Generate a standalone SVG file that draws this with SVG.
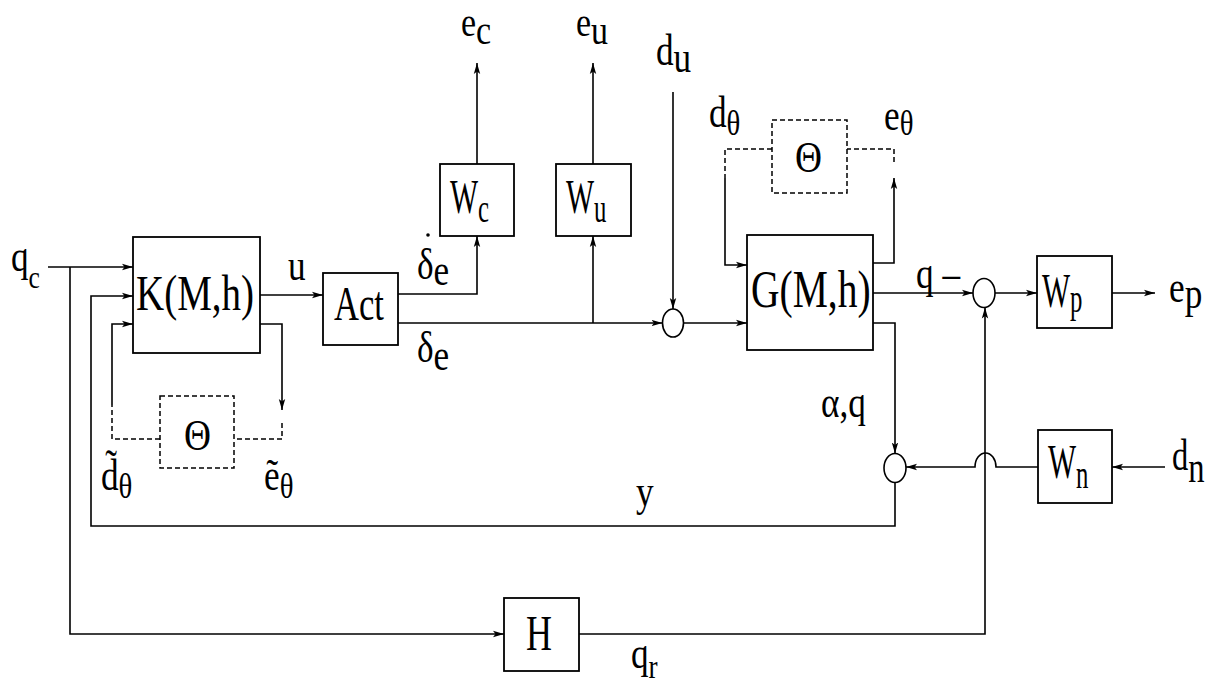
<svg xmlns="http://www.w3.org/2000/svg" width="1207" height="686" viewBox="0 0 1207 686">
<style>
.box{fill:none;stroke:#000;stroke-width:1.8}
.dbox{fill:none;stroke:#000;stroke-width:1.5;stroke-dasharray:5,3}
.ln{fill:none;stroke:#000;stroke-width:1.6}
.dl{fill:none;stroke:#000;stroke-width:1.5;stroke-dasharray:5,3}
.arr{marker-end:url(#ah)}
.sum{fill:#fff;stroke:#000;stroke-width:1.6}
.t{font-family:"Liberation Serif","Times New Roman",serif;fill:#000}
.lb{font-size:44px}
.bl{font-size:50px}
.th{font-size:36px}
</style>
<defs>
<marker id="ah" markerWidth="12" markerHeight="8" refX="11" refY="4" orient="auto" markerUnits="userSpaceOnUse">
<path d="M0,0.8 L11,4 L0,7.2 L2.5,4 Z" fill="#000"/>
</marker>
</defs>
<rect width="1207" height="686" fill="#fff"/>

<g id="connectors">
<path class="ln arr" d="M48,267 H133"/>
<path class="ln arr" d="M70,267 V634 H504"/>
<path class="ln arr" d="M895,482 V526 H91 V296 H133"/>
<path class="dl" d="M160,439 H112 V405"/>
<path class="ln arr" d="M112,405 V324 H133"/>
<path class="ln arr" d="M260,324 H282 V410"/>
<path class="dl" d="M282,423 V439 H234"/>
<path class="ln arr" d="M260,295 H323"/>
<path class="ln arr" d="M398,294 H477 V236"/>
<path class="ln arr" d="M477,164 V63"/>
<path class="ln arr" d="M398,323 H662.5"/>
<path class="ln arr" d="M593,323 V236"/>
<path class="ln arr" d="M593,164 V63"/>
<path class="ln arr" d="M673,92 V309"/>
<path class="ln arr" d="M683.5,323 H747"/>
<path class="dl" d="M772,149 H725 V178"/>
<path class="ln arr" d="M725,178 V265 H747"/>
<path class="ln arr" d="M873,263 H894 V178"/>
<path class="dl" d="M894,162 V149 H847"/>
<path class="ln arr" d="M873,293 H973"/>
<path class="ln arr" d="M995,293 H1037"/>
<path class="ln arr" d="M1112,293 H1155"/>
<path class="ln arr" d="M873,323 H895 V453.5"/>
<path class="ln arr" d="M1165,467 H1112"/>
<path class="ln arr" d="M1038,467 H996 A10.5,14 0 0 0 975,467 H906"/>
<path class="ln arr" d="M579,634 H985 V307.5"/>
</g>

<g id="sum1"><ellipse class="sum" cx="673" cy="323" rx="10.5" ry="14"/></g>
<g id="sum2"><ellipse class="sum" cx="984" cy="293" rx="11" ry="14.5"/></g>
<g id="sum3"><ellipse class="sum" cx="895" cy="468" rx="11" ry="14.5"/></g>

<g id="K"><rect class="box" x="133" y="237" width="127" height="116"/>
<text class="t bl" transform="translate(136,310) scale(0.78,1)">K(M,h)</text></g>
<g id="Act"><rect class="box" x="323" y="273" width="75" height="72"/>
<text class="t" transform="translate(334,320) scale(0.72,1)" style="font-size:48px">Act</text></g>
<g id="Wc"><rect class="box" x="440" y="164" width="74" height="72"/>
<text class="t" transform="translate(450,213) scale(0.62,1)" style="font-size:48px">W<tspan dy="9" style="font-size:40px">c</tspan></text></g>
<g id="Wu"><rect class="box" x="556" y="164" width="75" height="72"/>
<text class="t" transform="translate(566,213) scale(0.62,1)" style="font-size:48px">W<tspan dy="9" style="font-size:40px">u</tspan></text></g>
<g id="G"><rect class="box" x="747" y="235" width="126" height="115"/>
<text class="t" transform="translate(751,307) scale(0.76,1)" style="font-size:52px">G(M,h)</text></g>
<g id="ThetaTop"><rect class="dbox" x="772" y="120" width="75" height="73"/>
<text class="t" transform="translate(795,172) scale(0.85,1)" style="font-size:44px">Θ</text></g>
<g id="ThetaBottom"><rect class="dbox" x="160" y="396" width="74" height="72"/>
<text class="t" transform="translate(184,450) scale(0.85,1)" style="font-size:44px">Θ</text></g>
<g id="Wp"><rect class="box" x="1037" y="256" width="75" height="72"/>
<text class="t" transform="translate(1042,307) scale(0.62,1)" style="font-size:48px">W<tspan dy="5" style="font-size:40px">p</tspan></text></g>
<g id="Wn"><rect class="box" x="1038" y="430" width="74" height="73"/>
<text class="t" transform="translate(1048,478) scale(0.62,1)" style="font-size:48px">W<tspan dy="10" style="font-size:40px">n</tspan></text></g>
<g id="H"><rect class="box" x="504" y="598" width="75" height="73"/>
<text class="t" transform="translate(526,650) scale(0.72,1)" style="font-size:50px">H</text></g>

<g id="labels">
<text class="t lb" transform="translate(11,271) scale(0.8,1)">q<tspan dy="17" style="font-size:32px">c</tspan></text>
<text class="t lb" transform="translate(288,280) scale(0.8,1)">u</text>
<text class="t" style="font-size:40px" transform="translate(461,36) scale(0.85,1)">e<tspan dy="8">c</tspan></text>
<text class="t" style="font-size:40px" transform="translate(576,36) scale(0.85,1)">e<tspan dy="8">u</tspan></text>
<text class="t lb" transform="translate(656,65) scale(0.8,1)">d<tspan dy="7">u</tspan></text>
<text class="t lb" transform="translate(709,127) scale(0.8,1)">d<tspan class="th" dy="8">θ</tspan></text>
<text class="t lb" transform="translate(884,130) scale(0.8,1)">e<tspan class="th" dy="5">θ</tspan></text>
<circle cx="428" cy="235" r="1.8" fill="#000"/>
<text class="t lb" transform="translate(417,279) scale(0.8,1)">δ<tspan dy="6">e</tspan></text>
<text class="t lb" transform="translate(417,362) scale(0.8,1)">δ<tspan dy="8">e</tspan></text>
<text class="t lb" transform="translate(101,490) scale(0.8,1)">d̃<tspan class="th" dy="8">θ</tspan></text>
<text class="t lb" transform="translate(264,490) scale(0.8,1)">ẽ<tspan class="th" dy="8">θ</tspan></text>
<text class="t lb" transform="translate(916,288) scale(0.8,1)">q –</text>
<text class="t lb" transform="translate(1169,302) scale(0.8,1)">e<tspan dy="6">p</tspan></text>
<text class="t lb" transform="translate(821,417) scale(0.8,1)">α,q</text>
<text class="t lb" transform="translate(1172,470) scale(0.74,1)">d<tspan dy="12">n</tspan></text>
<text class="t lb" transform="translate(636,506) scale(0.8,1)">y</text>
<text class="t lb" transform="translate(631,668) scale(0.8,1)">q<tspan dy="10" style="font-size:34px">r</tspan></text>
</g>
</svg>
